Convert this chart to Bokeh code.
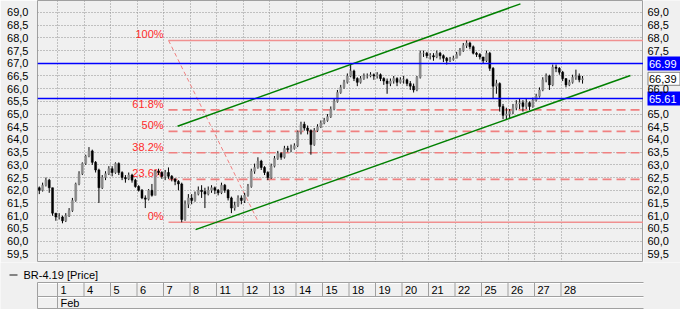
import numpy as np
from bokeh.plotting import figure
from bokeh.layouts import column, row
from bokeh.models import Range1d, FixedTicker, LinearAxis, Grid, Span, ColumnDataSource
from bokeh.core.properties import value
from bokeh.embed import file_html
from bokeh.resources import INLINE

# ---------------- data ----------------
series_name = "BR-4.19 [Price]"
month_label = "Feb"
day_labels = ["1", "4", "5", "6", "7", "8", "11", "12", "13", "14", "15",
              "18", "19", "20", "21", "22", "25", "26", "27", "28"]
# bars: first partial session (Jan 31, 6 bars), 19 sessions x 8 bars, Feb 28 (7 bars)
bars_per_day = [6] + [8] * 19 + [7]
first_open = 62.1
closes = [
    62.0, 62.2, 62.4, 62.1, 61.1, 60.95,
    60.95, 60.8, 61.0, 61.2, 61.6, 62.25, 62.65, 63.05,
    63.35, 63.55, 63.1, 62.8, 62.1, 62.5, 62.65, 62.85,
    62.7, 63.05, 62.7, 62.5, 62.45, 62.6, 62.4, 62.15,
    62.0, 61.7, 61.65, 62.0, 61.8, 62.75, 62.7, 62.55,
    62.7, 62.55, 62.45, 62.35, 62.25, 60.85, 61.45, 61.7,
    61.6, 61.85, 62.0, 61.95, 61.85, 62.0, 62.1, 62.0,
    61.9, 62.2, 62.0, 61.7, 61.3, 61.4, 61.7, 61.6,
    61.8, 62.15, 62.75, 62.9, 63.15, 62.9, 62.7, 62.5,
    62.95, 63.25, 63.45, 63.3, 63.65, 63.6, 63.65, 63.75,
    64.3, 64.6, 64.45, 64.35, 63.8, 64.35, 64.5, 64.65,
    64.75, 64.9, 65.2, 65.5, 65.85, 66.05, 66.25, 66.5,
    66.7, 66.4, 66.25, 66.4, 66.5, 66.5, 66.55, 66.5,
    66.55, 66.4, 66.3, 66.2, 66.3, 66.4, 66.25, 66.35,
    66.35, 66.2, 66.1, 65.95, 66.45, 67.4, 67.4, 67.3,
    67.3, 67.25, 67.4, 67.3, 67.2, 67.1, 67.15, 67.2,
    67.35, 67.5, 67.7, 67.8, 67.65, 67.4, 67.35, 67.25,
    67.1, 67.4, 66.8, 66.1, 66.2, 65.3, 64.95, 65.0,
    65.1, 65.25, 65.4, 65.45, 65.3, 65.45, 65.3, 65.55,
    65.7, 65.95, 66.35, 66.5, 66.15, 66.85, 66.8, 66.65,
    66.4, 66.15, 66.25, 66.45, 66.5, 66.35, 66.39,
]
highs = [
    62.15, 62.3, 62.5, 62.45, 62.1, 61.1,
    61.1, 61.0, 61.1, 61.3, 61.7, 62.3, 62.75, 63.1,
    63.4, 63.7, 63.6, 63.15, 62.85, 62.6, 62.75, 62.95,
    62.95, 63.1, 63.1, 62.75, 62.6, 62.7, 62.65, 62.45,
    62.2, 62.05, 61.8, 62.05, 62.25, 62.8, 62.85, 62.75,
    62.8, 62.9, 62.6, 62.45, 62.4, 62.3, 61.6, 61.85,
    61.85, 61.95, 62.15, 62.2, 62.1, 62.15, 62.2, 62.15,
    62.05, 62.3, 62.25, 62.05, 61.75, 61.55, 61.8, 61.8,
    61.9, 62.25, 62.85, 63.05, 63.3, 63.2, 62.95, 62.75,
    63.05, 63.35, 63.55, 63.5, 63.75, 63.75, 63.8, 63.85,
    64.35, 64.7, 64.7, 64.55, 64.4, 64.45, 64.6, 64.75,
    64.85, 65.0, 65.3, 65.6, 65.95, 66.15, 66.35, 66.6,
    66.95, 66.75, 66.45, 66.5, 66.6, 66.6, 66.65, 66.6,
    66.65, 66.6, 66.45, 66.4, 66.4, 66.5, 66.45, 66.45,
    66.5, 66.4, 66.3, 66.2, 66.5, 67.5, 67.5, 67.45,
    67.4, 67.4, 67.5, 67.45, 67.35, 67.25, 67.25, 67.3,
    67.45, 67.6, 67.8, 67.9, 67.85, 67.7, 67.45, 67.4,
    67.25, 67.5, 67.45, 66.85, 66.35, 66.25, 65.4, 65.25,
    65.2, 65.4, 65.55, 65.6, 65.55, 65.6, 65.5, 65.65,
    65.8, 66.05, 66.45, 66.6, 66.55, 66.95, 66.95, 66.85,
    66.7, 66.4, 66.35, 66.55, 66.75, 66.6, 66.5,
]
lows = [
    61.85, 61.95, 62.15, 61.9, 61.0, 60.8,
    60.85, 60.7, 60.75, 60.95, 61.15, 61.55, 62.2, 62.6,
    63.0, 63.3, 63.0, 62.7, 61.5, 62.05, 62.4, 62.6,
    62.55, 62.65, 62.6, 62.4, 62.3, 62.4, 62.3, 62.1,
    61.95, 61.65, 61.3, 61.6, 61.75, 61.8, 62.6, 62.45,
    62.4, 62.45, 62.35, 62.2, 62.0, 60.74, 60.8, 61.3,
    61.45, 61.55, 61.8, 61.7, 61.3, 61.8, 61.9, 61.85,
    61.8, 61.85, 61.9, 61.6, 61.1, 61.2, 61.35, 61.45,
    61.5, 61.75, 62.1, 62.65, 62.85, 62.8, 62.6, 62.4,
    62.45, 62.9, 63.2, 63.2, 63.25, 63.5, 63.5, 63.6,
    63.7, 64.2, 64.35, 64.2, 63.4, 63.75, 64.3, 64.45,
    64.6, 64.7, 64.85, 65.15, 65.45, 65.8, 66.0, 66.2,
    66.45, 66.3, 66.1, 66.2, 66.35, 66.4, 66.45, 66.35,
    66.4, 66.3, 66.15, 65.8, 66.1, 66.2, 66.1, 66.2,
    66.2, 66.1, 65.95, 65.85, 65.9, 66.4, 67.25, 67.2,
    67.15, 67.1, 67.2, 67.15, 67.05, 66.95, 67.05, 67.1,
    67.2, 67.3, 67.45, 67.6, 67.55, 67.35, 67.25, 67.15,
    67.0, 67.05, 66.7, 65.6, 65.8, 65.1, 64.8, 64.8,
    64.85, 65.0, 65.15, 65.2, 65.1, 65.2, 65.15, 65.25,
    65.5, 65.65, 65.9, 66.25, 65.95, 66.1, 66.65, 66.55,
    66.3, 66.05, 66.1, 66.2, 66.35, 66.25, 66.2,
]
last_price = 66.39
levels_blue = [66.99, 65.61]
levels_blue_text = ["66.99", "65.61"]
fib_high, fib_low = 67.9, 60.74
fib_x = [4.19, 7.585]
fib_ratios = [0.0, 0.236, 0.382, 0.5, 0.618, 1.0]
fib_texts = ["0%", "23.6%", "38.2%", "50%", "61.8%", "100%"]
chan_upper_x, chan_upper_y = [4.53, 17.47], [64.52, 69.34]
chan_lower_x, chan_lower_y = [5.21, 21.62], [60.45, 66.52]
yticks = [59.5 + 0.5 * i for i in range(20)]

# ---------------- styling ----------------
BG = "#f0f0f0"
FONT = "Liberation Sans"
X0, X1 = -0.755, 22.113
Y0, Y1 = 59.157, 69.472
SLOTS = 8
ML, MR = 37, 37           # side margins (px)
FRAME_W = 680 - ML - MR
PXU = (X1 - X0) / FRAME_W  # data units per pixel

def fmt(v, n=1):
    return f"{v:.{n}f}".replace(".", ",")

# bar positions (session index + slot)
xs = []
for d, n in enumerate(bars_per_day):
    day = d - 1
    start = SLOTS - n if d == 0 else 0
    for s in range(start, start + n):
        xs.append(day + (s + 0.5) / SLOTS)
opens = [first_open] + closes[:-1]
up = [c >= o for o, c in zip(opens, closes)]
src = ColumnDataSource(dict(
    x=xs, o=opens, c=closes, h=highs, l=lows,
    top=[max(o, c) for o, c in zip(opens, closes)],
    bot=[min(o, c) for o, c in zip(opens, closes)],
    col=["#8a8a8a" if u else "#000000" for u in up],
))

# ---------------- main chart ----------------
p = figure(width=680 - MR, height=262, x_range=Range1d(X0, X1), y_range=Range1d(Y0, Y1),
           x_axis_location=None, y_axis_location=None, toolbar_location=None,
           output_backend="svg", min_border_left=ML, min_border_right=0,
           min_border_top=0, min_border_bottom=0,
           background_fill_color=BG, border_fill_color=BG,
           outline_line_color="#a0a0a0")
p.grid.visible = False

ax = LinearAxis(ticker=FixedTicker(ticks=yticks),
                major_label_overrides={t: fmt(t) for t in yticks},
                major_tick_line_color=None, minor_tick_line_color=None,
                axis_line_color=None, major_label_standoff=3,
                major_label_text_font=FONT, major_label_text_font_size="11px",
                major_label_text_color="#000000")
p.add_layout(ax, "left")

p.add_layout(Grid(dimension=1, ticker=FixedTicker(ticks=yticks),
                  grid_line_color="#909090", grid_line_dash="1 2"))
p.add_layout(Grid(dimension=0, ticker=FixedTicker(ticks=list(range(len(day_labels)))),
                  grid_line_color="#909090", grid_line_dash="1 2"))

# fibonacci
fib_vals = [fib_low + r * (fib_high - fib_low) for r in fib_ratios]
solid = [v for r, v in zip(fib_ratios, fib_vals) if r in (0.0, 1.0)]
dashed = [v for r, v in zip(fib_ratios, fib_vals) if r not in (0.0, 1.0)]
p.segment(x0=[fib_x[0]] * len(solid), x1=[X1] * len(solid), y0=solid, y1=solid,
          line_color="#f09090", line_width=1.5)
p.segment(x0=[fib_x[0]] * len(dashed), x1=[X1] * len(dashed), y0=dashed, y1=dashed,
          line_color="#f08080", line_width=1.6, line_dash="9 5")
p.line(fib_x, [fib_high, fib_low], line_color="#f08080", line_width=1, line_dash="4 3")
p.text(x=[fib_x[0]] * len(fib_vals), y=fib_vals, text=fib_texts, text_align="right",
       text_baseline="middle", x_offset=-5, y_offset=-6, text_color="#ff2a2a",
       text_font=value(FONT), text_font_size="11px")

# candles
p.segment(x0="x", x1="x", y0="h", y1="l", source=src, line_color="#000000", line_width=1)
p.vbar(x="x", width=0.6 / SLOTS, top="top", bottom="bot", source=src,
       fill_color="col", line_color="col", line_width=0.5)

# blue levels
for lv in levels_blue:
    p.add_layout(Span(location=lv, dimension="width", line_color="#0000ff", line_width=1.5))

# channel
p.line(chan_upper_x, chan_upper_y, line_color="#008000", line_width=1.5)
p.line(chan_lower_x, chan_lower_y, line_color="#008000", line_width=1.5)

# ---------------- right price scale ----------------
r = figure(width=MR, height=262, x_range=Range1d(0, MR), y_range=p.y_range,
           x_axis_location=None, y_axis_location=None, toolbar_location=None,
           output_backend="svg", min_border_left=0, min_border_right=0,
           min_border_top=0, min_border_bottom=0,
           background_fill_color=BG, border_fill_color=BG, outline_line_color=None)
r.grid.visible = False
box_levels = levels_blue + [last_price]
# boxes first, then tick labels, then box texts
r.rect(x=[20.5] * len(levels_blue), y=levels_blue, width=33, height=14,
       width_units="screen", height_units="screen", fill_color="#0000ff", line_color=None)
r.rect(x=[20.5], y=[last_price], width=32, height=13, width_units="screen",
       height_units="screen", fill_color="#ffffff", line_color="#808080", line_width=1)
shown = [t for t in yticks if all(abs(t - b) > 0.2 for b in box_levels)]
r.text(x=[4] * len(shown), y=shown, text=[fmt(t) for t in shown], text_baseline="middle",
       text_color="#000000", text_font=value(FONT), text_font_size="11px")
r.text(x=[5.5] * len(levels_blue), y=levels_blue, text=levels_blue_text,
       text_baseline="middle", text_color="#ffffff", text_font=value(FONT),
       text_font_size="11px")
r.text(x=[5.5], y=[last_price], text=[fmt(last_price, 2)], text_baseline="middle",
       text_color="#000000", text_font=value(FONT), text_font_size="11px")

# ---------------- bottom strip: legend + date table ----------------
q = figure(width=680, height=47, x_range=Range1d(X0 - ML * PXU, X1 + MR * PXU),
           y_range=Range1d(47, 0),
           x_axis_location=None, y_axis_location=None, toolbar_location=None,
           output_backend="svg", min_border_left=0, min_border_right=0,
           min_border_top=0, min_border_bottom=0,
           background_fill_color=BG, border_fill_color=BG, outline_line_color=None)
q.grid.visible = False
for yy in (20, 34, 46):
    q.segment(x0=[X0], x1=[X1], y0=[yy], y1=[yy], line_color="#a0a0a0", line_width=1)
    q.segment(x0=[X0], x1=[X1], y0=[yy + 1], y1=[yy + 1], line_color="#ffffff", line_width=1)
bounds = [X0] + list(range(len(day_labels)))
q.segment(x0=bounds, x1=bounds, y0=[20] * len(bounds), y1=[34] * len(bounds),
          line_color="#a0a0a0", line_width=1)
q.segment(x0=[X0, 0], x1=[X0, 0], y0=[34, 34], y1=[46, 46],
          line_color="#a0a0a0", line_width=1)
q.text(x=list(range(len(day_labels))), y=[27] * len(day_labels), text=day_labels,
       x_offset=3, text_baseline="middle", text_color="#000000",
       text_font=value(FONT), text_font_size="11px")
q.text(x=[0], y=[40], text=[month_label], x_offset=3, text_baseline="middle",
       text_color="#000000", text_font=value(FONT), text_font_size="11px")
lx = X0 - ML * PXU
q.segment(x0=[lx + 9 * PXU], x1=[lx + 17 * PXU], y0=[12.5], y1=[12.5],
          line_color="#606060", line_width=1.5)
q.text(x=[lx], y=[12], x_offset=23, text=[series_name], text_baseline="middle",
       text_color="#000000", text_font=value(FONT), text_font_size="11px")

layout = column(row(p, r, spacing=0), q, spacing=0)
open("out.html", "w").write(file_html(layout, INLINE))
